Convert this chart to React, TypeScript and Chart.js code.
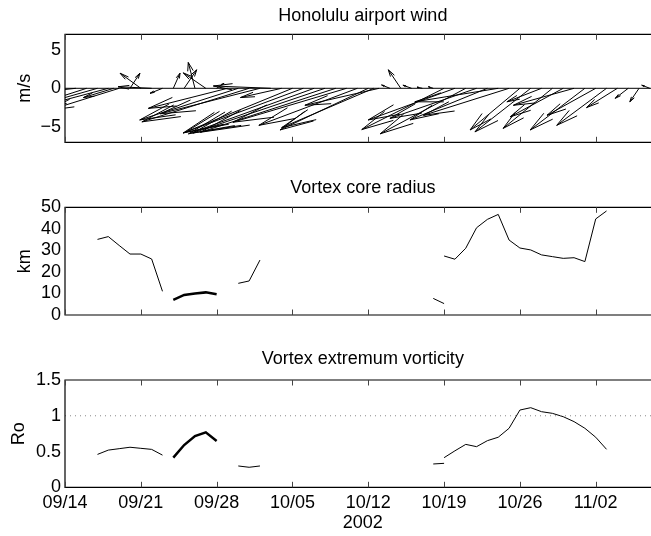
import React, { useEffect, useRef } from 'react';
import { Chart, registerables } from 'chart.js';

Chart.register(...registerables);

// ---------- shared x axis (days since 2002-09-14) ----------
const xMin = 0;
const xMax = 55;
const tickDays = [0, 7, 14, 21, 28, 35, 42, 49];
const tickLabels = ['09/14', '09/21', '09/28', '10/05', '10/12', '10/19', '10/26', '11/02'];
const yearLabel = '2002';

// ---------- Honolulu airport wind (quiver) ----------
const windDays = [0, 1, 2, 3, 4, 4.5, 5, 6, 7, 8, 9, 10, 11, 12, 13, 14, 15, 16, 17, 18, 19, 20, 21, 22, 23, 24, 25, 26, 27, 28, 28.5, 29, 30, 31, 32, 33, 34, 35, 36, 37, 38, 39, 40, 41, 42, 43, 44, 45, 46, 47, 48, 49, 50, 51, 52, 53, 54];
const windU = [-6.9, -6.5, -5.1, -5.5, -6.0, -2.8, -6.5, 0.92, -1.92, -3.1, -1.15, 0.62, 1.16, -0.62, -2.08, 0.68, -7.3, -9.1, -9.9, -9.2, -5.3, -3.8, -10.1, -10.9, -11.6, -12.2, -12.5, -10.5, -9.1, -8.15, -8.5, -6.85, -0.77, -1.15, -0.8, -0.5, -0.45, -7.6, -8.0, -7.9, -8.0, -7.15, -7.7, -7.9, -4.6, -5.15, -3.2, -4.55, -4.9, -5.6, -5.05, -4.5, -4.6, -2.85, -1.2, -0.85, -0.75];
const windV = [-0.8, -1.0, -2.3, -2.2, -2.25, -1.2, -2.85, 1.96, 1.96, 0.2, -0.65, 1.96, 2.4, 3.35, 2.0, 0.65, -2.6, -4.1, -4.35, -3.3, 0.3, -1.2, -5.8, -5.7, -5.9, -5.8, -5.7, -4.4, -4.8, -5.4, -5.1, -2.2, 0.43, 2.4, 0.4, 0.15, 0.2, -5.35, -4.1, -5.9, -3.9, -4.1, -1.75, -3.5, -5.4, -5.65, -1.75, -5.2, -3.7, -2.2, -5.4, -3.5, -4.8, -2.5, -1.3, -1.75, 0.4];
const windTicks = [-5, 0, 5];

// ---------- Vortex core radius (km) ----------
const radiusDaysA = [3, 4, 5, 6, 7, 8, 9];
const radiusA = [35.1, 36.4, 32.3, 28.3, 28.3, 26.0, 11.0];
const radiusDaysThick = [10, 11, 12, 13, 14];
const radiusThick = [7.0, 9.3, 10.0, 10.5, 9.6];
const radiusDaysB = [16, 17, 18];
const radiusB = [14.7, 15.8, 25.5];
const radiusDaysC = [34, 35];
const radiusC = [7.7, 5.3];
const radiusDaysD = [35, 36, 37, 38, 39, 40, 41, 42, 43, 44, 45, 46, 47, 48, 49, 50];
const radiusD = [27.4, 25.9, 31.0, 40.5, 44.4, 46.7, 34.8, 31.1, 30.2, 27.9, 27.1, 26.3, 26.6, 24.8, 44.6, 48.3];
const radiusTicks = [0, 10, 20, 30, 40, 50];

// ---------- Vortex extremum vorticity (Ro) ----------
const roDaysA = [3, 4, 5, 6, 7, 8, 9];
const roA = [0.46, 0.52, 0.54, 0.56, 0.545, 0.53, 0.45];
const roDaysThick = [10, 11, 12, 13, 14];
const roThick = [0.414, 0.591, 0.717, 0.769, 0.647];
const roDaysB = [16, 17, 18];
const roB = [0.298, 0.28, 0.298];
const roDaysC = [34, 35];
const roC = [0.326, 0.335];
const roDaysD = [35, 36, 37, 38, 39, 40, 41, 42, 43, 44, 45, 46, 47, 48, 49, 50];
const roD = [0.414, 0.51, 0.6, 0.568, 0.652, 0.7, 0.825, 1.08, 1.113, 1.057, 1.034, 0.987, 0.918, 0.825, 0.7, 0.531];
const roTicks = [0, 0.5, 1, 1.5];
const roReference = 1;

// ---------- styling ----------
const CANVAS_W = 670;
const FONT = { family: '"Liberation Sans", Arial, Helvetica, sans-serif', size: 18, weight: 'normal' };
const HEAD_ALPHA = 0.33;
const HEAD_BETA = 0.23;

const pts = (xs: number[], ys: number[]) => xs.map((x, i) => ({ x, y: ys[i] }));

const lineDs = (xs: number[], ys: number[], width: number) => ({
  data: pts(xs, ys),
  borderColor: '#000',
  borderWidth: width,
  pointRadius: 0,
  tension: 0,
  fill: false,
});

const framePlugin = {
  id: 'frame',
  afterDatasetsDraw(chart: any) {
    const { ctx, chartArea: a, scales } = chart;
    const xs = scales.x;
    ctx.save();
    ctx.strokeStyle = '#000';
    ctx.lineWidth = 1.2;
    ctx.beginPath();
    ctx.moveTo(a.right + 10, a.top);
    ctx.lineTo(a.left, a.top);
    ctx.lineTo(a.left, a.bottom);
    ctx.lineTo(a.right + 10, a.bottom);
    ctx.stroke();
    ctx.strokeStyle = '#444';
    ctx.lineWidth = 1;
    ctx.beginPath();
    tickDays.forEach((d) => {
      const px = Math.round(xs.getPixelForValue(d)) + 0.5;
      ctx.moveTo(px, a.top);
      ctx.lineTo(px, a.top + 5.5);
      ctx.moveTo(px, a.bottom);
      ctx.lineTo(px, a.bottom - 5.5);
    });
    ctx.stroke();
    ctx.restore();
  },
};

const quiverPlugin = {
  id: 'quiver',
  afterDatasetsDraw(chart: any) {
    const { ctx, chartArea: a, scales } = chart;
    const xs = scales.x;
    const ys = scales.y;
    ctx.save();
    ctx.beginPath();
    ctx.rect(a.left, a.top, a.right - a.left, a.bottom - a.top);
    ctx.clip();
    ctx.strokeStyle = '#000';
    ctx.lineWidth = 1;
    ctx.beginPath();
    windDays.forEach((t, i) => {
      const u = windU[i];
      const v = windV[i];
      const tx = t + u;
      const ty = v;
      ctx.moveTo(xs.getPixelForValue(t), ys.getPixelForValue(0));
      ctx.lineTo(xs.getPixelForValue(tx), ys.getPixelForValue(ty));
      const b1x = tx - HEAD_ALPHA * (u + HEAD_BETA * v);
      const b1y = ty - HEAD_ALPHA * (v - HEAD_BETA * u);
      const b2x = tx - HEAD_ALPHA * (u - HEAD_BETA * v);
      const b2y = ty - HEAD_ALPHA * (v + HEAD_BETA * u);
      ctx.moveTo(xs.getPixelForValue(b1x), ys.getPixelForValue(b1y));
      ctx.lineTo(xs.getPixelForValue(tx), ys.getPixelForValue(ty));
      ctx.lineTo(xs.getPixelForValue(b2x), ys.getPixelForValue(b2y));
    });
    ctx.stroke();
    ctx.restore();
  },
};

type Spec = {
  top: number;
  height: number;
  title: string;
  titlePad: { top: number; bottom: number };
  yLabel: string;
  yLabelPad: number;
  yMin: number;
  yMax: number;
  yTicks: number[];
  xAxisHeight: number;
  showXLabels: boolean;
  datasets: any[];
  plugins: any[];
};

const fmtY = (v: number) => (v < 0 ? '\u2212' + Math.abs(v) : String(v));

function Panel({ spec }: { spec: Spec }) {
  const ref = useRef<HTMLCanvasElement>(null);
  useEffect(() => {
    const chart = new Chart(ref.current as HTMLCanvasElement, {
      type: 'line',
      data: { datasets: spec.datasets },
      options: {
        animation: false,
        responsive: false,
        devicePixelRatio: 1,
        layout: { padding: { left: 0, top: 0, right: CANVAS_W - 660.7, bottom: 0 } },
        plugins: {
          legend: { display: false },
          tooltip: { enabled: false },
          title: {
            display: true,
            text: spec.title,
            font: FONT,
            color: '#000',
            fullSize: false,
            padding: spec.titlePad,
          },
        },
        scales: {
          x: {
            type: 'linear',
            min: xMin,
            max: xMax,
            afterBuildTicks: (s: any) => {
              s.ticks = tickDays.map((v) => ({ value: v }));
            },
            afterFit: (s: any) => {
              s.height = spec.xAxisHeight;
            },
            grid: { display: false, drawTicks: false },
            border: { display: false },
            ticks: {
              display: spec.showXLabels,
              autoSkip: false,
              maxRotation: 0,
              padding: 4.5,
              font: FONT,
              color: '#000',
              callback: (v: any) => tickLabels[tickDays.indexOf(Number(v))] ?? '',
            },
            title: {
              display: spec.showXLabels,
              text: yearLabel,
              font: FONT,
              color: '#000',
              padding: { top: 0, bottom: 2 },
            },
          },
          y: {
            type: 'linear',
            min: spec.yMin,
            max: spec.yMax,
            afterBuildTicks: (s: any) => {
              s.ticks = spec.yTicks.map((v) => ({ value: v }));
            },
            afterFit: (s: any) => {
              s.width = 65;
            },
            grid: { display: false, drawTicks: false },
            border: { display: false },
            ticks: {
              autoSkip: false,
              padding: 4,
              font: FONT,
              color: '#000',
              callback: (v: any) => fmtY(Number(v)),
            },
            title: {
              display: true,
              text: spec.yLabel,
              font: FONT,
              color: '#000',
              padding: { top: spec.yLabelPad, bottom: 0 },
            },
          },
        },
      } as any,
      plugins: [framePlugin, ...spec.plugins],
    });
    return () => chart.destroy();
  }, []);
  return (
    <canvas
      ref={ref}
      width={CANVAS_W}
      height={spec.height}
      style={{ position: 'absolute', left: 0, top: spec.top, width: CANVAS_W, height: spec.height }}
    />
  );
}

const windSpec: Spec = {
  top: 0,
  height: 170,
  title: 'Honolulu airport wind',
  titlePad: { top: 5, bottom: 7.7 },
  yLabel: 'm/s',
  yLabelPad: 14,
  yMin: -7,
  yMax: 7,
  yTicks: windTicks,
  xAxisHeight: 27.7,
  showXLabels: false,
  datasets: [lineDs([xMin, xMax], [0, 0], 1)],
  plugins: [quiverPlugin],
};

const radiusSpec: Spec = {
  top: 170,
  height: 160,
  title: 'Vortex core radius',
  titlePad: { top: 7.2, bottom: 8.5 },
  yLabel: 'km',
  yLabelPad: 14.7,
  yMin: 0,
  yMax: 50,
  yTicks: radiusTicks,
  xAxisHeight: 15,
  showXLabels: false,
  datasets: [
    lineDs(radiusDaysA, radiusA, 1),
    lineDs(radiusDaysThick, radiusThick, 2.5),
    lineDs(radiusDaysB, radiusB, 1),
    lineDs(radiusDaysC, radiusC, 1),
    lineDs(radiusDaysD, radiusD, 1),
  ],
  plugins: [],
};

const roSpec: Spec = {
  top: 330,
  height: 206,
  title: 'Vortex extremum vorticity',
  titlePad: { top: 18.2, bottom: 10.2 },
  yLabel: 'Ro',
  yLabelPad: 8,
  yMin: 0,
  yMax: 1.5,
  yTicks: roTicks,
  xAxisHeight: 48.7,
  showXLabels: true,
  datasets: [
    {
      ...lineDs([xMin, xMax], [roReference, roReference], 1),
      borderColor: '#888',
      borderDash: [1, 4],
    },
    lineDs(roDaysA, roA, 1),
    lineDs(roDaysThick, roThick, 2.5),
    lineDs(roDaysB, roB, 1),
    lineDs(roDaysC, roC, 1),
    lineDs(roDaysD, roD, 1),
  ],
  plugins: [],
};

export default function App() {
  return (
    <div
      style={{
        position: 'absolute',
        left: 0,
        top: 0,
        width: 651,
        height: 536,
        overflow: 'hidden',
        background: '#fff',
      }}
    >
      <Panel spec={windSpec} />
      <Panel spec={radiusSpec} />
      <Panel spec={roSpec} />
    </div>
  );
}
